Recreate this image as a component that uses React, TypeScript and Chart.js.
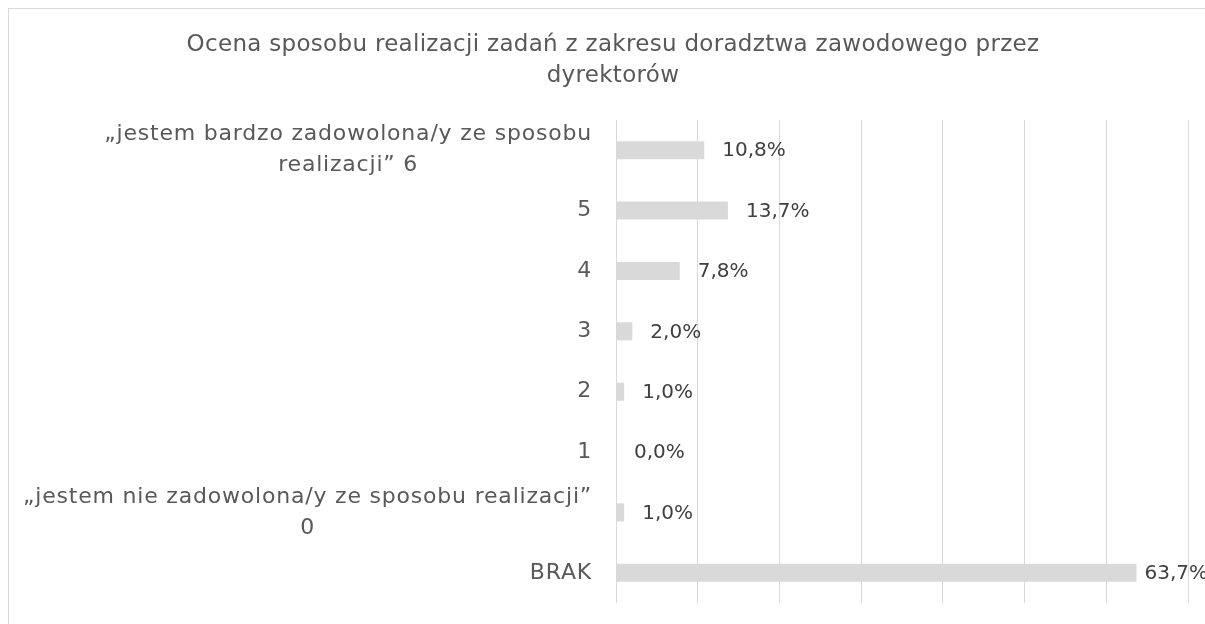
import React, { useEffect, useRef } from "react";
import { Chart, registerables } from "chart.js";

Chart.register(...registerables);

const TITLE_LINES: string[] = [
  "Ocena sposobu realizacji zadań z zakresu doradztwa zawodowego przez",
  "dyrektorów",
];

const CATEGORY_LABELS: string[][] = [
  ["„jestem bardzo zadowolona/y ze sposobu", "realizacji” 6"],
  ["5"],
  ["4"],
  ["3"],
  ["2"],
  ["1"],
  ["„jestem nie zadowolona/y ze sposobu realizacji”", "0"],
  ["BRAK"],
];

const SERIES_VALUES: number[] = [10.8, 13.7, 7.8, 2.0, 1.0, 0.0, 1.0, 63.7];

const X_MIN = 0;
const X_MAX = 70;
const X_STEP = 10;

const FONT = '"DejaVu Sans", sans-serif';

const formatPct = (v: number) => v.toFixed(1).replace(".", ",") + "%";

const spacingPlugin = {
  id: "titleSpacing",
  beforeDraw(chart: any) {
    chart.ctx.letterSpacing = "0.3px";
  },
};

const labelsPlugin = {
  id: "customLabels",
  afterDatasetsDraw(chart: any) {
    const ctx: CanvasRenderingContext2D = chart.ctx;
    const yScale = chart.scales.y;
    const meta = chart.getDatasetMeta(0);
    ctx.save();
    // category labels
    ctx.font = `22px ${FONT}`;
    (ctx as any).letterSpacing = "0.8px";
    ctx.fillStyle = "#595959";
    ctx.textAlign = "center";
    ctx.textBaseline = "middle";
    const right = chart.chartArea.left - 24;
    const labels = chart.data.labels as string[][];
    labels.forEach((lines, i) => {
      const cy = yScale.getPixelForValue(i);
      const maxW = Math.max(...lines.map((l) => ctx.measureText(l).width));
      const cx = right - maxW / 2;
      lines.forEach((l, j) => {
        ctx.fillText(l, cx, cy + (j - (lines.length - 1) / 2) * 31);
      });
    });
    // data labels
    ctx.font = `20px ${FONT}`;
    (ctx as any).letterSpacing = "0px";
    ctx.fillStyle = "#404040";
    ctx.textAlign = "left";
    const data = chart.data.datasets[0].data as number[];
    meta.data.forEach((bar: any, i: number) => {
      const txt = formatPct(data[i]);
      const w = ctx.measureText(txt).width;
      const x = Math.min(bar.x + 18, chart.chartArea.right + 20 - w);
      ctx.fillText(txt, x, bar.y + 1);
    });
    ctx.restore();
  },
};

export default function App() {
  const canvasRef = useRef<HTMLCanvasElement | null>(null);

  useEffect(() => {
    document.documentElement.style.overflow = "hidden";
    const canvas = canvasRef.current;
    if (!canvas) return;
    const chart = new Chart(canvas, {
      type: "bar",
      data: {
        labels: CATEGORY_LABELS as any,
        datasets: [
          {
            data: SERIES_VALUES,
            backgroundColor: "#d9d9d9",
            borderWidth: 0,
            barPercentage: 0.3,
            categoryPercentage: 1,
          },
        ],
      },
      options: {
        indexAxis: "y",
        animation: false,
        responsive: false,
        events: [],
        layout: { padding: { left: 29, right: 29, top: 0, bottom: 56 } },
        plugins: {
          legend: { display: false },
          tooltip: { enabled: false },
          title: {
            display: true,
            text: TITLE_LINES,
            color: "#595959",
            font: { family: FONT, size: 23, weight: "normal", lineHeight: "31px" as any },
            padding: { top: 20.5, bottom: 28.5 },
          },
        },
        scales: {
          x: {
            min: X_MIN,
            max: X_MAX,
            ticks: { display: false, stepSize: X_STEP },
            grid: { color: "#d9d9d9", lineWidth: 1, drawTicks: false },
            border: { display: false },
          },
          y: {
            ticks: { display: false },
            grid: { display: false },
            border: { display: false },
            afterFit: (scale: any) => {
              scale.width = 578;
            },
          },
        },
      },
      plugins: [spacingPlugin, labelsPlugin],
    });
    return () => chart.destroy();
  }, []);

  return (
    <div
      style={{
        position: "fixed",
        left: 8,
        top: 8,
        border: "1px solid #d9d9d9",
        width: 1208,
        height: 650,
        boxSizing: "content-box",
      }}
    >
      <canvas ref={canvasRef} width={1208} height={650} style={{ display: "block" }} />
    </div>
  );
}
